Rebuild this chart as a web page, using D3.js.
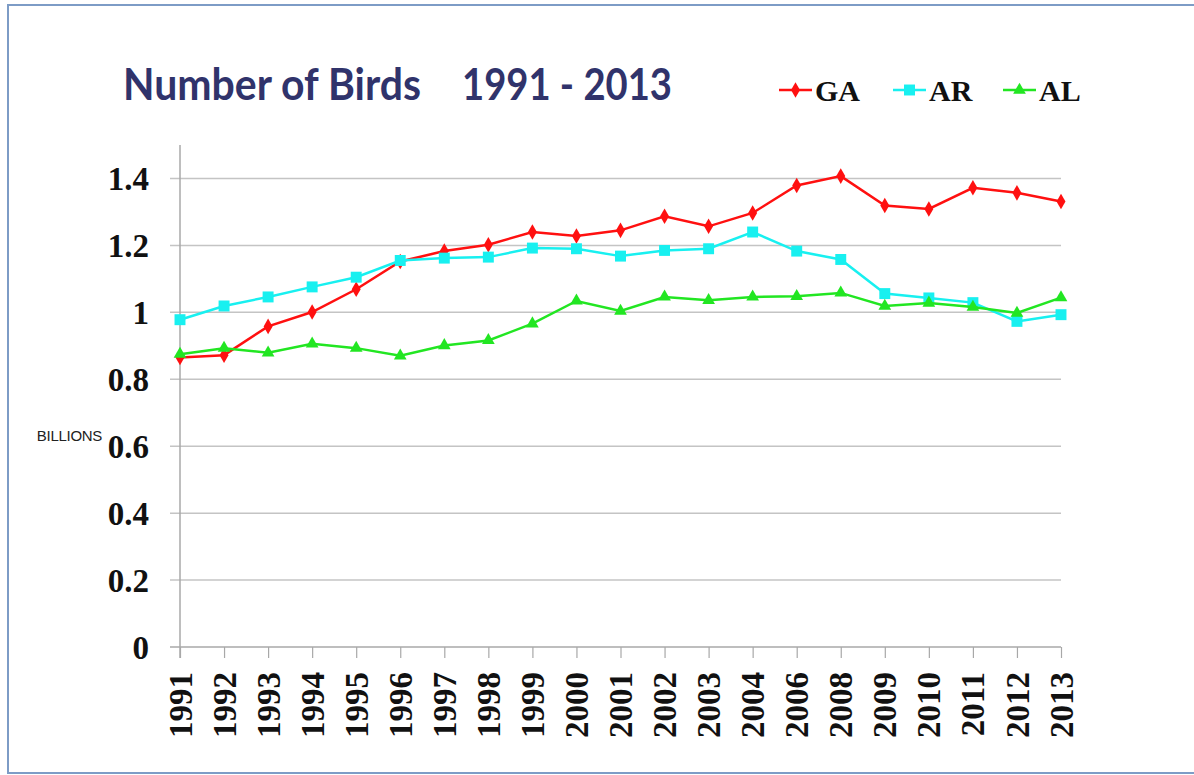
<!DOCTYPE html>
<html>
<head>
<meta charset="utf-8">
<script src="https://cdn.jsdelivr.net/npm/d3@7"></script>
<style>
  body { margin: 0; background: #fff; }
  svg { display: block; }
</style>
</head>
<body>
<div id="chart"></div>
<script>
const years = ['1991', '1992', '1993', '1994', '1995', '1996', '1997', '1998', '1999', '2000',
  '2001', '2002', '2003', '2004', '2006', '2008', '2009', '2010', '2011', '2012', '2013'];
const gaValues = [0.865, 0.872, 0.958, 1.001, 1.069, 1.152, 1.183, 1.202, 1.240, 1.228,
  1.245, 1.287, 1.257, 1.297, 1.379, 1.407, 1.319, 1.309, 1.372, 1.357, 1.331];
const arValues = [0.978, 1.019, 1.046, 1.076, 1.105, 1.155, 1.162, 1.165, 1.192, 1.190,
  1.168, 1.185, 1.190, 1.240, 1.183, 1.158, 1.056, 1.043, 1.029, 0.973, 0.993];
const alValues = [0.875, 0.893, 0.879, 0.906, 0.893, 0.870, 0.901, 0.916, 0.966, 1.034,
  1.004, 1.046, 1.036, 1.046, 1.048, 1.058, 1.019, 1.028, 1.016, 0.998, 1.044];
const yTicks = [0, 0.2, 0.4, 0.6, 0.8, 1, 1.2, 1.4];

const series = [
  { name: 'GA', values: gaValues, color: '#ff1010', symbol: d3.symbolDiamond, size: 70 },
  { name: 'AR', values: arValues, color: '#18f0f0', symbol: d3.symbolSquare, size: 120 },
  { name: 'AL', values: alValues, color: '#22e622', symbol: d3.symbolTriangle, size: 70 }
];

const W = 1194, H = 775;
const svg = d3.select('#chart').append('svg')
  .attr('width', W)
  .attr('height', H);

// outer frame
svg.append('rect')
  .attr('x', 8).attr('y', 5)
  .attr('width', W - 6).attr('height', H - 7)
  .attr('fill', 'none')
  .attr('stroke', '#7d9cc6')
  .attr('stroke-width', 2);

const x = d3.scalePoint().domain(years).range([180, 1061]);
const y = d3.scaleLinear().domain([0, 1.5]).range([647, 145]);

// grid
svg.append('g')
  .selectAll('line')
  .data(yTicks.filter(d => d > 0))
  .enter().append('line')
  .attr('x1', 170).attr('x2', 1061)
  .attr('y1', d => y(d)).attr('y2', d => y(d))
  .attr('stroke', '#c4c4c4')
  .attr('stroke-width', 1.5);

// axes
const xAxis = svg.append('g')
  .attr('transform', 'translate(0,' + y(0) + ')')
  .call(d3.axisBottom(x).tickSize(11).tickSizeOuter(0).tickFormat(''));
xAxis.select('.domain').remove();
xAxis.append('line')
  .attr('x1', 170).attr('x2', 1061)
  .attr('stroke', '#a8a8a8').attr('stroke-width', 1.5);
xAxis.selectAll('.tick line').attr('stroke', '#a8a8a8').attr('stroke-width', 1.2);

svg.append('line')
  .attr('x1', x(years[0])).attr('x2', x(years[0]))
  .attr('y1', y(1.5)).attr('y2', y(0) + 11)
  .attr('stroke', '#a8a8a8').attr('stroke-width', 1.5);

// y labels
svg.append('g')
  .selectAll('text')
  .data(yTicks)
  .enter().append('text')
  .attr('x', 149)
  .attr('y', d => y(d))
  .attr('dy', '0.36em')
  .attr('text-anchor', 'end')
  .attr('font-family', '"Liberation Serif", "Times New Roman", serif')
  .attr('font-weight', 'bold')
  .attr('font-size', 33)
  .attr('fill', '#111')
  .text(d => d3.format('')(d));

svg.append('text')
  .attr('x', 102).attr('y', 441)
  .attr('text-anchor', 'end')
  .attr('font-family', '"Liberation Sans", Arial, sans-serif')
  .attr('font-size', 15)
  .attr('letter-spacing', -0.3)
  .attr('fill', '#222')
  .text('BILLIONS');

// x labels
svg.append('g')
  .selectAll('text')
  .data(years)
  .enter().append('text')
  .attr('transform', d => 'translate(' + x(d) + ',672) rotate(-90)')
  .attr('dy', '0.35em')
  .attr('text-anchor', 'end')
  .attr('font-family', '"Liberation Serif", "Times New Roman", serif')
  .attr('font-weight', 'bold')
  .attr('font-size', 33)
  .attr('fill', '#111')
  .text(d => d);

// lines + markers
const line = d3.line()
  .x((d, i) => x(years[i]))
  .y(d => y(d));

series.forEach(s => {
  svg.append('path')
    .datum(s.values)
    .attr('d', line)
    .attr('fill', 'none')
    .attr('stroke', s.color)
    .attr('stroke-width', 2.5);
  svg.append('g')
    .selectAll('path')
    .data(s.values)
    .enter().append('path')
    .attr('transform', (d, i) => 'translate(' + x(years[i]) + ',' + y(d) + ')')
    .attr('d', d3.symbol().type(s.symbol).size(s.size))
    .attr('fill', s.color);
});

// title
svg.append('text')
  .attr('x', 123).attr('y', 100)
  .attr('font-family', 'Lato, "Open Sans", sans-serif')
  .attr('font-weight', 'bold')
  .attr('font-size', 44)
  .attr('fill', '#30336b')
  .attr('textLength', 298)
  .attr('lengthAdjust', 'spacingAndGlyphs')
  .text('Number of Birds');
svg.append('text')
  .attr('x', 462).attr('y', 100)
  .attr('font-family', 'Lato, "Open Sans", sans-serif')
  .attr('font-weight', 'bold')
  .attr('font-size', 44)
  .attr('fill', '#30336b')
  .attr('textLength', 210)
  .attr('lengthAdjust', 'spacingAndGlyphs')
  .text('1991 - 2013');

// legend
const legendX = [779, 893, 1003];
const legend = svg.append('g');
series.forEach((s, i) => {
  const g = legend.append('g').attr('transform', 'translate(' + legendX[i] + ',90)');
  g.append('line')
    .attr('x1', 0).attr('x2', 33)
    .attr('stroke', s.color).attr('stroke-width', 2.5);
  g.append('path')
    .attr('transform', 'translate(16.5,0)')
    .attr('d', d3.symbol().type(s.symbol).size(s.size))
    .attr('fill', s.color);
  g.append('text')
    .attr('x', 36).attr('y', 0)
    .attr('dy', '0.35em')
    .attr('font-family', '"Liberation Serif", "Times New Roman", serif')
    .attr('font-weight', 'bold')
    .attr('font-size', 30)
    .attr('fill', '#111')
    .text(s.name);
});
</script>
</body>
</html>
